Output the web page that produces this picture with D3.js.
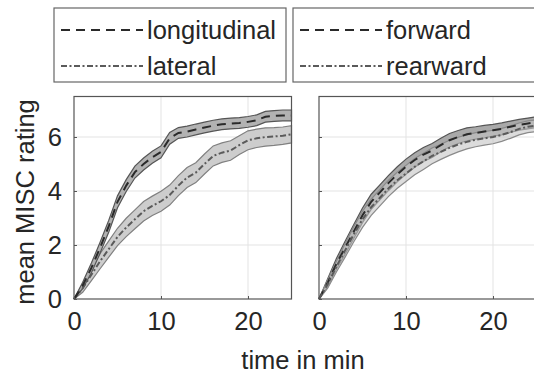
<!DOCTYPE html>
<html>
<head>
<meta charset="utf-8">
<script src="https://cdn.jsdelivr.net/npm/d3@7"></script>
<style>
  html, body { margin: 0; padding: 0; background: #fff; }
  svg { display: block; font-family: "Liberation Sans", Arial, sans-serif; }
</style>
</head>
<body>
<svg id="chart" width="534" height="378"></svg>
<script>
// time in minutes
const time = [0, 1, 2, 3, 4, 5, 6, 7, 8, 9, 10, 11, 12, 13, 14, 15, 16, 17, 18, 19, 20, 21, 22, 23, 24, 25];

// mean MISC ratings
const longitudinal = [0, 0.5, 1.15, 1.9, 2.7, 3.6, 4.2, 4.7, 5.0, 5.25, 5.45, 5.95, 6.15, 6.2, 6.28, 6.35, 6.42, 6.47, 6.5, 6.52, 6.56, 6.62, 6.75, 6.78, 6.8, 6.8];
const lateral = [0, 0.4, 0.9, 1.4, 1.85, 2.3, 2.65, 2.95, 3.25, 3.45, 3.62, 3.85, 4.2, 4.5, 4.68, 5.0, 5.3, 5.42, 5.5, 5.7, 5.88, 5.95, 6.0, 6.02, 6.05, 6.1];
const forward = [0, 0.6, 1.3, 1.9, 2.5, 3.1, 3.6, 3.95, 4.3, 4.62, 4.9, 5.15, 5.35, 5.5, 5.7, 5.88, 6.0, 6.1, 6.15, 6.2, 6.25, 6.3, 6.38, 6.45, 6.5, 6.55];
const rearward = [0, 0.55, 1.2, 1.8, 2.4, 2.95, 3.4, 3.75, 4.1, 4.4, 4.65, 4.9, 5.1, 5.3, 5.45, 5.6, 5.72, 5.82, 5.9, 5.95, 6.0, 6.08, 6.18, 6.3, 6.38, 6.42];

// half width of the shaded bands
const longitudinalErr = [0, 0.12, 0.18, 0.2, 0.22, 0.22, 0.22, 0.22, 0.22, 0.22, 0.22, 0.22, 0.2, 0.2, 0.2, 0.2, 0.2, 0.2, 0.2, 0.2, 0.2, 0.2, 0.2, 0.2, 0.2, 0.2];
const lateralErr = [0, 0.15, 0.22, 0.28, 0.3, 0.32, 0.34, 0.35, 0.36, 0.36, 0.37, 0.37, 0.37, 0.37, 0.37, 0.37, 0.37, 0.36, 0.36, 0.35, 0.35, 0.34, 0.34, 0.33, 0.32, 0.32];
const forwardErr = [0, 0.15, 0.2, 0.24, 0.26, 0.27, 0.28, 0.28, 0.28, 0.28, 0.28, 0.27, 0.26, 0.26, 0.25, 0.25, 0.24, 0.24, 0.23, 0.23, 0.22, 0.22, 0.21, 0.2, 0.2, 0.2];
const rearwardErr = [0, 0.15, 0.2, 0.25, 0.28, 0.3, 0.3, 0.3, 0.3, 0.3, 0.3, 0.3, 0.3, 0.29, 0.28, 0.28, 0.27, 0.26, 0.26, 0.25, 0.25, 0.24, 0.23, 0.22, 0.22, 0.22];

const xTicks = [0, 10, 20];
const yTicks = [0, 2, 4, 6];

document.addEventListener("DOMContentLoaded", function () {
    const svg = d3.select("#chart");
    const fontSize = 25.5;
    const top = 96.5, bottom = 299, plotWidth = 217.5;

    const y = d3.scaleLinear().domain([0, 7.5]).range([bottom, top]);

    const dashed = "9,6";
    const dashDot = "6,2.5,2,2.5";

    const panels = [
        {
            left: 74,
            series: [
                { name: "lateral", mean: lateral, err: lateralErr, fill: "#cdcdcd", edge: "#808080", line: "#5a5a5a", dash: dashDot, opacity: 1 },
                { name: "longitudinal", mean: longitudinal, err: longitudinalErr, fill: "#b2b2b2", edge: "#555", line: "#2a2a2a", dash: dashed, opacity: 1 }
            ],
            legend: { x0: 54, x1: 286, order: ["longitudinal", "lateral"] }
        },
        {
            left: 319,
            series: [
                { name: "forward", mean: forward, err: forwardErr, fill: "#a9a9a9", edge: "#555", line: "#2a2a2a", dash: dashed, opacity: 1 },
                { name: "rearward", mean: rearward, err: rearwardErr, fill: "#c4c4c4", edge: "#8a8a8a", line: "#5a5a5a", dash: dashDot, opacity: 0.6 }
            ],
            legend: { x0: 293, x1: 545, order: ["forward", "rearward"] }
        }
    ];

    panels.forEach(function (p, k) {
        const x = d3.scaleLinear().domain([0, 25]).range([p.left, p.left + plotWidth]);
        const g = svg.append("g");

        // Grid
        g.selectAll(".gx").data(xTicks.slice(1)).enter().append("line")
            .attr("x1", (d) => x(d)).attr("x2", (d) => x(d))
            .attr("y1", top).attr("y2", bottom)
            .attr("stroke", "#e3e3e3").attr("stroke-width", 1);
        g.selectAll(".gy").data(yTicks.slice(1)).enter().append("line")
            .attr("x1", x(0)).attr("x2", x(25))
            .attr("y1", (d) => y(d)).attr("y2", (d) => y(d))
            .attr("stroke", "#e3e3e3").attr("stroke-width", 1);

        // Bands and means
        const area = d3.area()
            .x((d, i) => x(time[i]))
            .y0((d) => y(d[0]))
            .y1((d) => y(d[1]));
        const line = d3.line()
            .x((d, i) => x(time[i]))
            .y((d) => y(d));

        p.series.forEach(function (s) {
            const band = s.mean.map((m, i) => [m - s.err[i], m + s.err[i]]);
            g.append("path")
                .attr("d", area(band))
                .attr("fill", s.fill)
                .attr("fill-opacity", s.opacity)
                .attr("stroke", s.edge)
                .attr("stroke-width", 1.2);
        });
        p.series.forEach(function (s) {
            g.append("path")
                .attr("d", line(s.mean))
                .attr("fill", "none")
                .attr("stroke", s.line)
                .attr("stroke-width", 2)
                .attr("stroke-dasharray", s.dash);
        });

        // Axes
        const xAxis = d3.axisBottom(x).tickValues(xTicks).tickSizeInner(-3).tickSizeOuter(0).tickPadding(13);
        const xa = g.append("g").attr("transform", `translate(0,${bottom})`).call(xAxis);
        xa.select(".domain").remove();
        xa.selectAll("line").attr("stroke", "#555");
        xa.selectAll("text").style("font-size", fontSize).attr("fill", "#262626");

        const yAxis = d3.axisLeft(y).tickValues(yTicks).tickSizeInner(-3).tickSizeOuter(0).tickPadding(12);
        const ya = g.append("g").attr("transform", `translate(${x(0)},0)`).call(yAxis);
        ya.select(".domain").remove();
        ya.selectAll("line").attr("stroke", "#555");
        ya.selectAll("text").style("font-size", fontSize).attr("fill", "#262626");
        if (k > 0) ya.selectAll("text").remove();

        // Frame
        g.append("rect")
            .attr("x", x(0)).attr("y", top)
            .attr("width", x(25) - x(0)).attr("height", bottom - top)
            .attr("fill", "none").attr("stroke", "#555").attr("stroke-width", 1.2);

        // Legend
        const lg = svg.append("g");
        lg.append("rect")
            .attr("x", p.legend.x0).attr("y", 8)
            .attr("width", p.legend.x1 - p.legend.x0).attr("height", 74)
            .attr("fill", "#fff").attr("stroke", "#666").attr("stroke-width", 1.2);
        p.legend.order.forEach(function (name, i) {
            const s = p.series.find((d) => d.name === name);
            const ly = 30 + i * 36;
            lg.append("line")
                .attr("x1", p.legend.x0 + 7).attr("x2", p.legend.x0 + 89)
                .attr("y1", ly).attr("y2", ly)
                .attr("stroke", s.line).attr("stroke-width", 2)
                .attr("stroke-dasharray", s.dash);
            lg.append("text")
                .attr("x", p.legend.x0 + 93).attr("y", ly + 9)
                .style("font-size", fontSize)
                .attr("fill", "#262626")
                .text(name);
        });
    });

    // Axis titles
    svg.append("text")
        .attr("x", 303).attr("y", 369)
        .attr("text-anchor", "middle")
        .style("font-size", fontSize)
        .attr("fill", "#262626")
        .text("time in min");
    svg.append("text")
        .attr("transform", "translate(34,202) rotate(-90)")
        .attr("text-anchor", "middle")
        .style("font-size", fontSize)
        .attr("fill", "#262626")
        .text("mean MISC rating");
});
</script>
</body>
</html>
